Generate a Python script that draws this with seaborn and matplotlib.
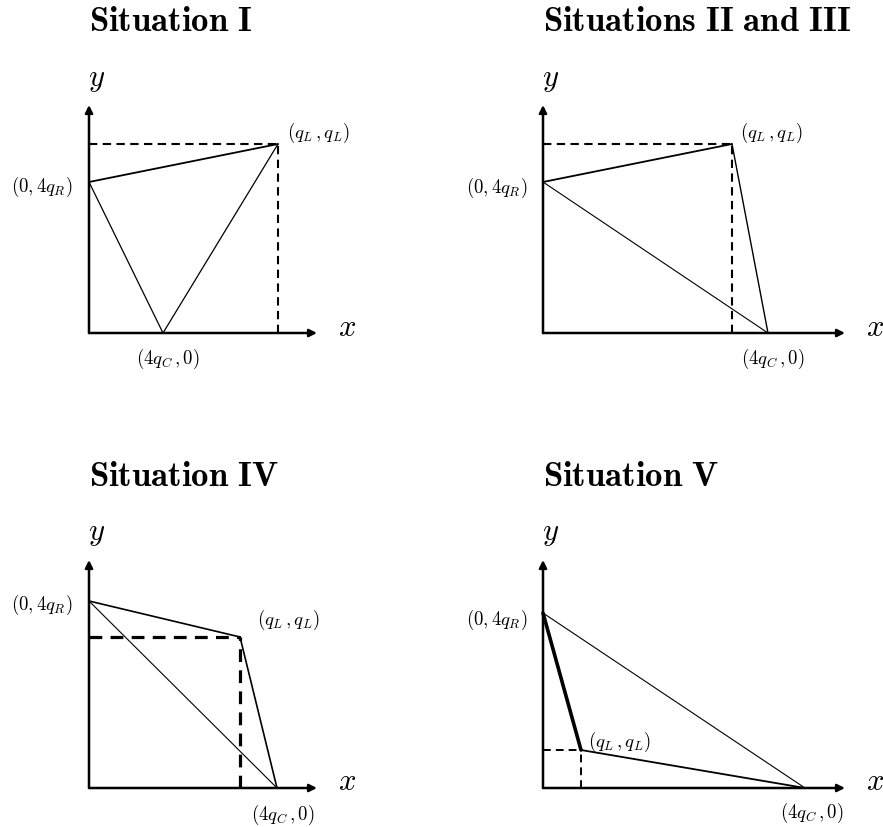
import matplotlib
matplotlib.use("Agg")
import matplotlib.pyplot as plt
import pandas as pd
import seaborn as sb

# one panel per situation; values in units of 100 reference pixels
situations = ["Situation\\ I", "Situations\\ II\\ and\\ III", "Situation\\ IV", "Situation\\ V"]
four_qR = [1.51, 1.51, 1.87, 1.75]     # y-intercept (0, 4q_R)
qL = [1.89, 1.89, 1.51, 0.38]          # corner (q_L, q_L)
four_qC = [0.74, 2.25, 1.88, 2.62]     # x-intercept (4q_C, 0)
x_axis_len = [2.28, 3.02, 2.28, 3.02]

# line widths of edges: (4qR->qL, qL->4qC, 4qR->4qC) and of dashed guides
edge_lw = [(1.3, 0.9, 0.9), (1.3, 1.0, 0.8), (1.2, 1.2, 0.8), (2.6, 1.3, 0.8)]
dash_lw = [1.5, 1.5, 2.3, 1.4]

# label offsets (x, y) for (0,4qR), (qL,qL), (4qC,0)
lab_R = [(-0.17, 1.46), (-0.16, 1.45), (-0.17, 1.83), (-0.16, 1.68)]
lab_L = [(1.98, 2.00), (1.97, 2.00), (1.68, 1.68), (0.45, 0.46)]
lab_C = [(0.79, -0.26), (2.30, -0.26), (1.94, -0.27), (2.69, -0.25)]

# origin of each panel in figure pixels (from bottom-left)
origins = [(89, 494), (543, 494), (89, 39), (543, 39)]

sb.set_style("white")
plt.rcParams["mathtext.fontset"] = "cm"
plt.rcParams["font.family"] = ["DejaVu Serif"]
plt.rcParams["text.color"] = "black"

W, H = 883, 827
fig = plt.figure(figsize=(W / 100, H / 100), dpi=100)

x0, x1, y0, y1 = -0.89, 3.40, -0.39, 3.30
for i in range(4):
    ox, oy = origins[i]
    ax = fig.add_axes([(ox + x0 * 100) / W, (oy + y0 * 100) / H,
                       (x1 - x0) * 100 / W, (y1 - y0) * 100 / H])
    ax.set_xlim(x0, x1)
    ax.set_ylim(y0, y1)
    ax.axis("off")

    R, L, C = four_qR[i], qL[i], four_qC[i]
    lw1, lw2, lw3 = edge_lw[i]
    xl = x_axis_len[i]

    # axes arrows
    ax.annotate("", xy=(xl, 0), xytext=(0, 0),
                arrowprops=dict(arrowstyle="-|>", color="black", lw=1.8,
                                mutation_scale=11, shrinkA=0, shrinkB=0))
    ax.annotate("", xy=(0, 2.28), xytext=(0, 0),
                arrowprops=dict(arrowstyle="-|>", color="black", lw=1.8,
                                mutation_scale=11, shrinkA=0, shrinkB=0))

    # dashed guides to (qL, qL)
    ax.plot([0, L], [L, L], color="black", lw=dash_lw[i], ls=(0, (4, 2.6)))
    ax.plot([L, L], [0, L], color="black", lw=dash_lw[i], ls=(0, (4, 2.6)))

    # triangle edges
    sb.lineplot(x=[0, L], y=[R, L], sort=False, color="black", lw=lw1, ax=ax)
    sb.lineplot(x=[L, C], y=[L, 0], sort=False, color="black", lw=lw2, ax=ax)
    sb.lineplot(x=[0, C], y=[R, 0], sort=False, color="black", lw=lw3, ax=ax)

    # texts
    ax.text(0.0, 3.12, r"$\mathbf{" + situations[i] + "}$", fontsize=25,
            ha="left", va="center")
    ax.text(0.08, 2.55, r"$y$", fontsize=22, ha="center", va="center")
    ax.text(xl + 0.30, 0.06, r"$x$", fontsize=22, ha="center", va="center")
    ax.text(lab_R[i][0], lab_R[i][1], r"$(0,4q_R)$", fontsize=13.5,
            ha="right", va="center")
    ax.text(lab_L[i][0], lab_L[i][1], r"$(q_L\,,q_L)$", fontsize=13.5,
            ha="left", va="center")
    ax.text(lab_C[i][0], lab_C[i][1], r"$(4q_C\,,0)$", fontsize=13.5,
            ha="center", va="center")

fig.savefig("out.png", dpi=100)
